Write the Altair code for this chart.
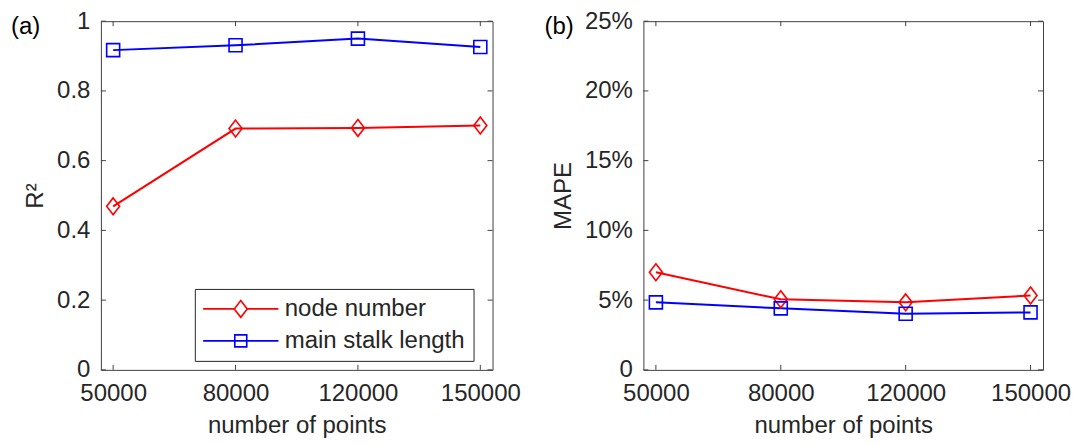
import altair as alt
import pandas as pd

# ---------------- data ----------------
points = ["50000", "80000", "120000", "150000"]
series = ["node number", "main stalk length"]
r2_node = [0.469, 0.692, 0.694, 0.701]
r2_stalk = [0.917, 0.931, 0.950, 0.926]
mape_node = [7.00, 5.06, 4.84, 5.33]
mape_stalk = [4.84, 4.41, 4.02, 4.12]
r2_ticks = [0, 0.2, 0.4, 0.6, 0.8, 1]
mape_ticks = [0, 5, 10, 15, 20, 25]

RED = "#ff0000"
BLUE = "#0000ff"
FONT = "Liberation Sans"
TEXT = "#262626"
AXC = "#404040"

DIAMOND = "M0,-1.3L1,0L0,1.3L-1,0Z"
LEG_DIAMOND = "M-5.8,0H-1M1,0H5.8M0,-1.3L1,0L0,1.3L-1,0Z"
LEG_SQUARE = "M-5.8,0H5.8M-0.92,-0.92H0.92V0.92H-0.92Z"


def make_df(a, b):
    rows = []
    for s, vals in zip(series, [a, b]):
        for i, (p, v) in enumerate(zip(points, vals)):
            rows.append({"points": p, "series": s, "value": v, "idx": i})
    return pd.DataFrame(rows)


def panel(df, ytitle, ydomain, yticks, label_expr, width, height, letter, legend):
    x = alt.X("points:N", sort=points,
              scale=alt.Scale(type="point", padding=0.1),
              axis=alt.Axis(title="number of points", labelAngle=0,
                            labelPadding=12, titlePadding=8))
    y = alt.Y("value:Q", scale=alt.Scale(domain=ydomain, nice=False, zero=True),
              axis=alt.Axis(values=yticks, labelExpr=label_expr, title=ytitle,
                            labelPadding=11, titlePadding=9))
    color = alt.Color("series:N", scale=alt.Scale(domain=series, range=[RED, BLUE]),
                      legend=None)

    lines = alt.Chart(df).mark_line(strokeWidth=2).encode(
        x=x, y=y, color=color, order=alt.Order("idx:Q"))
    marks = alt.Chart(df).mark_point(filled=False, strokeWidth=1.6, size=169, opacity=1).encode(
        x=x, y=y, color=color,
        shape=alt.Shape("series:N", scale=alt.Scale(domain=series, range=[DIAMOND, "square"]),
                        legend=None))

    ydf = pd.DataFrame({"value": yticks})
    xdf = pd.DataFrame({"points": points})
    tl = alt.Chart(ydf).mark_rule(color=AXC, strokeWidth=1).encode(
        y=y, x=alt.value(0), x2=alt.value(5))
    tr = alt.Chart(ydf).mark_rule(color=AXC, strokeWidth=1).encode(
        y=y, x=alt.value(width - 5), x2=alt.value(width))
    tb = alt.Chart(xdf).mark_rule(color=AXC, strokeWidth=1).encode(
        x=x, y=alt.value(height - 5), y2=alt.value(height))
    tt = alt.Chart(xdf).mark_rule(color=AXC, strokeWidth=1).encode(
        x=x, y=alt.value(0), y2=alt.value(5))

    lab = alt.Chart(pd.DataFrame({"t": [letter]})).mark_text(
        align="left", baseline="middle", font=FONT, fontSize=24, color="#000000"
    ).encode(x=alt.value(-90 if letter == "(a)" else -99), y=alt.value(6), text="t:N")

    layers = [tl, tr, tb, tt, lines, marks, lab]
    if legend:
        leg = alt.Chart(df).mark_point(filled=False, opacity=0, size=169).encode(
            x=x, y=y,
            shape=alt.Shape(
                "series:N",
                scale=alt.Scale(domain=series, range=[LEG_DIAMOND, LEG_SQUARE]),
                legend=alt.Legend(
                    title=None, orient="none", legendX=94, legendY=268,
                    fillColor="white", strokeColor="#262626", padding=8,
                    symbolSize=169, symbolOffset=26, labelOffset=32,
                    labelFont=FONT, labelFontSize=24, labelColor=TEXT,
                    labelLimit=400, rowPadding=8, symbolStrokeWidth=1.6,
                    symbolOpacity=1, symbolFillColor="transparent",
                    cornerRadius=0,
                    symbolStrokeColor={"expr": "datum.value === 'node number' ? '%s' : '%s'" % (RED, BLUE)},
                ),
            ),
        )
        layers.append(leg)
    ch = alt.layer(*layers).properties(width=width, height=height)
    if legend:
        ch = ch.resolve_scale(shape="independent")
    return ch


left = panel(make_df(r2_node, r2_stalk), "R²", [0, 1], r2_ticks,
             "format(datum.value, '~g')", 392, 349, "(a)", True)
right = panel(make_df(mape_node, mape_stalk), "MAPE", [0, 25], mape_ticks,
              "datum.value == 0 ? '0' : datum.value + '%'", 400, 349, "(b)", False)

chart = alt.hconcat(left, right, spacing=22).properties(
    padding={"left": 10, "top": 8, "right": 2, "bottom": 0}
).configure(font=FONT).configure_view(
    stroke=AXC, strokeWidth=1
).configure_axis(
    labelFont=FONT, titleFont=FONT, labelFontSize=24, titleFontSize=24,
    labelColor=TEXT, titleColor=TEXT, titleFontWeight="normal",
    domain=False, ticks=False, grid=False
)

chart.save("out.html", embed_options={"renderer": "svg", "actions": False})
